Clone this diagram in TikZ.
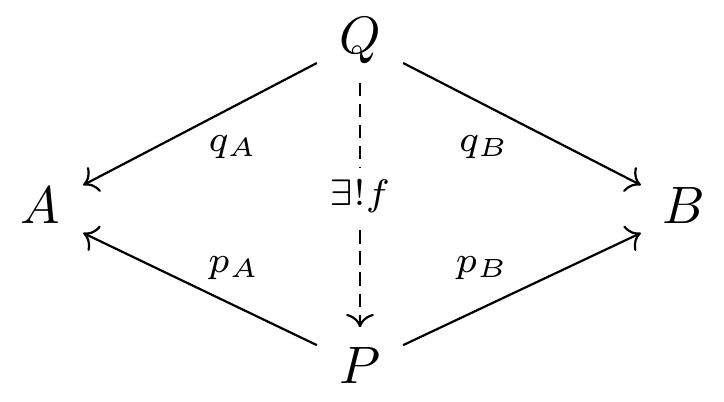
\documentclass[tikz,border=0pt]{standalone}
\usetikzlibrary{arrows.meta}
\begin{document}
\begin{tikzpicture}[x=0.19pt,y=-0.19pt,
  obj/.style={inner sep=0pt, text height=7pt, text depth=1.7pt, minimum width=16pt, anchor=base},
  lbl/.style={inner sep=0pt, anchor=base},
  arr/.style={line width=0.42pt, -{Computer Modern Rightarrow}},
  dasharr/.style={arr, dash pattern=on 2.5pt off 1.5pt}]
\useasboundingbox (0,0) rectangle (724,401);
\node[obj] (Q) at (360,53) {$Q$};
\node[obj] (A) at (40,223) {$A$};
\node[obj] (B) at (684,223) {$B$};
\node[obj] (P) at (360,383) {$P$};
\draw[arr] (Q.south west) -- (A.north east);
\draw[arr] (Q.south east) -- (B.north west);
\draw[arr] (P.north west) -- (A.south east);
\draw[arr] (P.north east) -- (B.south west);
\draw[dasharr, shorten <=3.8pt, shorten >=3.4pt] (Q.south) -- (P.north);
\node[lbl] (qA) at (233,151) {$\scriptstyle q_A$};
\node[lbl] (qB) at (484,151) {$\scriptstyle q_B$};
\node[lbl] (pA) at (234,272) {$\scriptstyle p_A$};
\node[lbl] (pB) at (482,272) {$\scriptstyle p_B$};
\node[lbl, fill=white, inner sep=2.2pt] (f) at (360,205) {$\scriptstyle \exists! f$};
\end{tikzpicture}
\end{document}
